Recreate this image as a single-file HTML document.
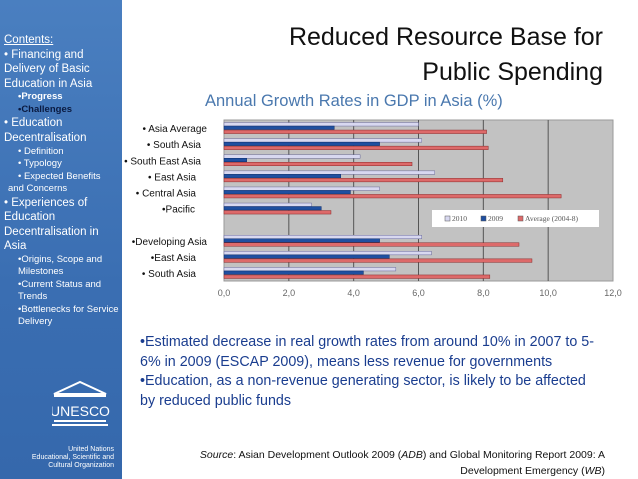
<!DOCTYPE html>
<html><head><meta charset="utf-8"><style>
body{margin:0;width:638px;height:479px;overflow:hidden;background:#fff;font-family:"Liberation Sans",sans-serif;position:relative}
#side{position:absolute;left:0;top:0;width:122px;height:479px;background:linear-gradient(#4a7fc0,#3a6eb2 60%,#3568ac);color:#fff;font-size:11.5px;line-height:14.6px}
#side .c{position:absolute;left:4px;top:33px;width:116px}
.sub{font-size:9.5px;line-height:12.5px;padding-left:14px}
#title{position:absolute;right:35px;top:20px;font-size:25px;line-height:35px;text-align:right;color:#111}
#sub{position:absolute;left:205px;top:92px;font-size:16.5px;color:#4a78ae}
#txt{position:absolute;left:140px;top:333px;width:490px;font-size:14.3px;line-height:19.5px;color:#1a3d8f;white-space:nowrap}
#src{position:absolute;left:150px;top:447px;width:455px;font-size:10.5px;line-height:16px;text-align:right;color:#111}
</style></head><body>
<div id="side"><div class="c">
<div style="text-decoration:underline">Contents:</div>
<div>• Financing and Delivery of Basic Education in Asia</div>
<div class="sub"><b>•Progress</b><br><b style="color:#0a1a40">•Challenges</b></div>
<div>• Education Decentralisation</div>
<div class="sub">• Definition<br>• Typology<br>• Expected Benefits<br><span style="margin-left:-10px">and Concerns</span></div>
<div>• Experiences of Education Decentralisation in Asia</div>
<div class="sub">•Origins, Scope and Milestones<br>•Current Status and Trends<br>•Bottlenecks for Service Delivery</div>
</div>
<svg style="position:absolute;left:52px;top:380px" width="60" height="60">
<polygon points="2,14 28,2 54,14" fill="none" stroke="#fff" stroke-width="2"/>
<rect x="2" y="15" width="52" height="2" fill="#fff"/>
<text x="28" y="36" fill="#fff" font-size="14" text-anchor="middle" font-family="Liberation Sans">UNESCO</text>
<rect x="2" y="40" width="52" height="2" fill="#fff"/><rect x="0" y="44" width="56" height="2" fill="#fff"/>
</svg>
<div style="position:absolute;right:8px;top:446px;font-size:7px;line-height:8px;text-align:right">United Nations<br>Educational, Scientific and<br>Cultural Organization</div>
</div>
<div id="title">Reduced Resource Base for<br>Public Spending</div>
<div id="sub">Annual Growth Rates in GDP in Asia (%)</div>
<svg id="chart" style="position:absolute;left:0;top:0" width="638" height="320"></svg>
<div id="txt">•Estimated decrease in real growth rates from around 10% in 2007 to 5-<br>6% in 2009 (ESCAP 2009), means less revenue for governments<br>•Education, as a non-revenue generating sector, is likely to be affected<br>by reduced public funds</div>
<div id="src"><i>Source</i>: Asian Development Outlook 2009 (<i>ADB</i>) and Global Monitoring Report 2009: A Development Emergency (<i>WB</i>)</div>
<script>
const categories=["• Asia Average","• South Asia","• South East Asia","• East Asia","• Central Asia","•Pacific","","•Developing Asia","•East Asia","• South Asia"];
const s2010=[6.0,6.1,4.2,6.5,4.8,2.7,null,6.1,6.4,5.3];
const s2009=[3.4,4.8,0.7,3.6,3.9,3.0,null,4.8,5.1,4.3];
const sAvg=[8.1,8.15,5.8,8.6,10.4,3.3,null,9.1,9.5,8.2];
const ticks=["0,0","2,0","4,0","6,0","8,0","10,0","12,0"];
const labelX=[207,201,201,196,196,195,0,207,196,196];
const svg=document.getElementById('chart');const NS='http://www.w3.org/2000/svg';
const X0=224,X1=613,Y0=120,Y1=281,MAX=12;
const x=v=>X0+(X1-X0)*v/MAX;const slot=(Y1-Y0)/categories.length;
function el(t,a){const e=document.createElementNS(NS,t);for(const k in a)e.setAttribute(k,a[k]);svg.appendChild(e);return e;}
let e=el('rect',{x:X0,y:Y0,width:X1-X0,height:Y1-Y0,fill:'#c2c2c2',stroke:'#999'});

ticks.forEach((t,i)=>{const v=i*2;if(i>0&&i<6){const g=el('line',{x1:x(v),x2:x(v),y1:Y0,y2:Y1,stroke:'#555','stroke-width':1});}
const l=el('text',{x:x(v),y:296,'font-size':9,fill:'#666','text-anchor':'middle'});l.textContent=t;});
categories.forEach((c,i)=>{const yc=Y0+slot*i+slot/2;
if(c){const t=el('text',{x:labelX[i],y:yc+4,'font-size':10,fill:'#111','text-anchor':'end'});t.textContent=c;}
[[s2010,'#d8d8f0','#6a6a9a',-5],[s2009,'#1f4fa0','#0e2e6a',-1.5],[sAvg,'#dd6a6a','#8a2a2a',2.5]].forEach(([arr,f,s,o])=>{if(arr[i]==null)return;
const b=el('rect',{x:X0,y:yc+o-0.5,width:x(arr[i])-X0,height:3.5,fill:f,stroke:s,'stroke-width':0.5});});});
const lg=el('rect',{x:432,y:210,width:167,height:17,fill:'#fff'});
[['2010','#d8d8f0',445],['2009','#1f4fa0',481],['Average (2004-8)','#dd6a6a',518]].forEach(([n,c,lx])=>{
const r=el('rect',{x:lx,y:216,width:5,height:5,fill:c,stroke:'#555','stroke-width':0.5});
const t=el('text',{x:lx+7,y:221,'font-size':7.5,fill:'#555','font-family':'Liberation Serif'});t.textContent=n;});
</script>
</body></html>
